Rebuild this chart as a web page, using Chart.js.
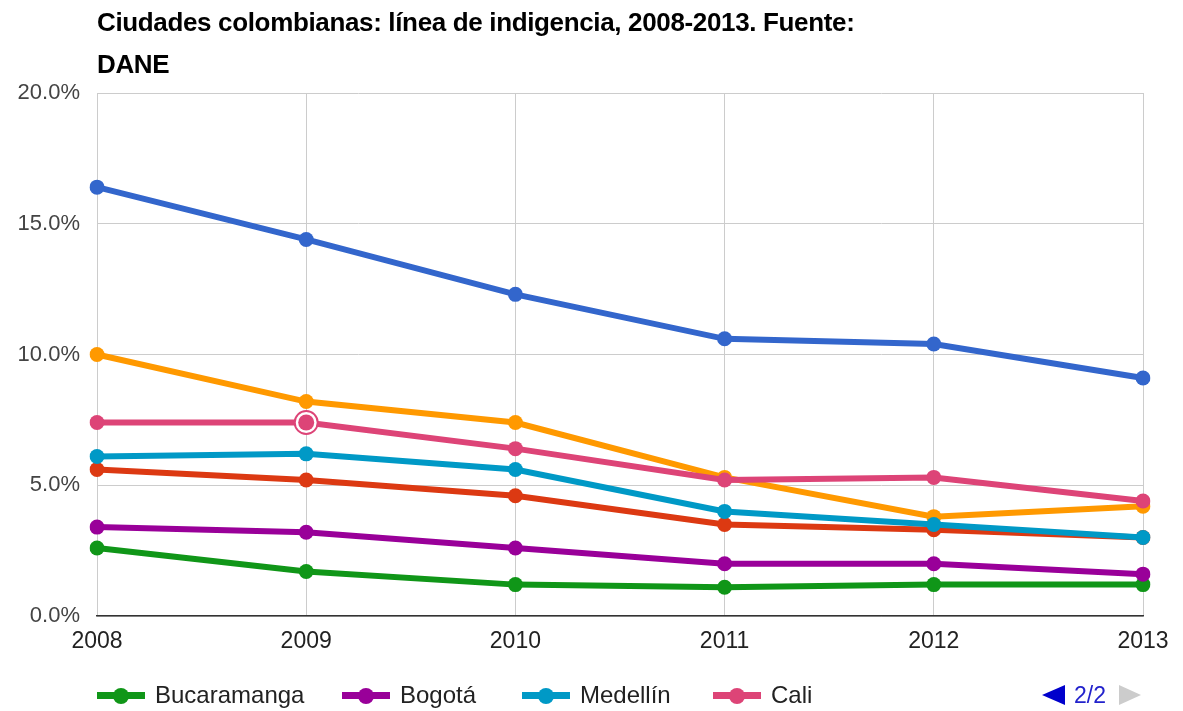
<!DOCTYPE html>
<html>
<head>
<meta charset="utf-8">
<script src="https://cdn.jsdelivr.net/npm/chart.js@4"></script>
<style>
  html, body { margin: 0; padding: 0; background: #fff; }
  .wrap { position: relative; width: 1183px; height: 711px; overflow: hidden; font-family: "Liberation Sans", Arial, sans-serif; }
  .title { position: absolute; left: 97px; top: 1px; width: 820px; font-size: 26px; letter-spacing: -0.35px; font-weight: bold; line-height: 42px; color: #000; }
  canvas { position: absolute; left: 0; top: 0; }
  .legend { position: absolute; left: 97px; top: 681px; height: 30px; font-size: 24px; color: #222; }
  .legend .item { position: absolute; top: 0; white-space: nowrap; }
  .legend .icon { position: absolute; top: 11px; width: 48px; height: 7px; }
  .legend .icon i { position: absolute; left: 16px; top: -4.5px; width: 16px; height: 16px; border-radius: 50%; background: inherit; }
  .legend .txt { position: absolute; left: 58px; top: 0px; line-height: 28px; }
  .pager { position: absolute; left: 1040px; top: 681px; font-size: 23px; color: #2222cc; }
  .pager .prev { position: absolute; left: 2px; top: 4px; width: 0; height: 0; border-top: 10px solid transparent; border-bottom: 10px solid transparent; border-right: 23px solid #0000cc; }
  .pager .num { position: absolute; left: 34px; top: 0px; line-height: 28px; }
  .pager .next { position: absolute; left: 79px; top: 4px; width: 0; height: 0; border-top: 10px solid transparent; border-bottom: 10px solid transparent; border-left: 22px solid #cccccc; }
</style>
</head>
<body>
<div class="wrap">
  <canvas id="line-chart" width="1183" height="711"></canvas>
  <div class="title">Ciudades colombianas: línea de indigencia, 2008-2013. Fuente: DANE</div>
  <div class="legend" id="legend"></div>
  <div class="pager"><span class="prev"></span><span class="num">2/2</span><span class="next"></span></div>
</div>
<script>
  const years = ['2008', '2009', '2010', '2011', '2012', '2013'];

  // series (first three sit on legend page 1, not visible in the picture)
  const names = ['Ciudad 1', 'Ciudad 2', 'Ciudad 3', 'Bucaramanga', 'Bogotá', 'Medellín', 'Cali'];
  const serie1 = [16.4, 14.4, 12.3, 10.6, 10.4, 9.1];
  const serie2 = [5.6, 5.2, 4.6, 3.5, 3.3, 3.0];
  const serie3 = [10.0, 8.2, 7.4, 5.3, 3.8, 4.2];
  const bucaramanga = [2.6, 1.7, 1.2, 1.1, 1.2, 1.2];
  const bogota = [3.4, 3.2, 2.6, 2.0, 2.0, 1.6];
  const medellin = [6.1, 6.2, 5.6, 4.0, 3.5, 3.0];
  const cali = [7.4, 7.4, 6.4, 5.2, 5.3, 4.4];

  const yTicks = [0, 5, 10, 15, 20];
  const colors = ['#3366cc', '#dc3912', '#ff9900', '#109618', '#990099', '#0099c6', '#dd4477'];
  const legendPage = [3, 4, 5, 6];
  const legendLeft = [0, 245, 425, 616];

  const allSeries = [serie1, serie2, serie3, bucaramanga, bogota, medellin, cali];

  //legend (page 2/2)
  const $legend = document.getElementById('legend');
  legendPage.forEach((idx, n) => {
    const item = document.createElement('div');
    item.className = 'item';
    item.style.left = legendLeft[n] + 'px';
    item.innerHTML = '<span class="icon" style="background:' + colors[idx] + '"><i></i></span><span class="txt">' + names[idx] + '</span>';
    $legend.appendChild(item);
  });

  //selected point ring (Cali, 2009)
  const selected = { dataset: 6, index: 1 };
  const ringPlugin = {
    id: 'ring',
    afterDatasetsDraw(chart) {
      const pt = chart.getDatasetMeta(selected.dataset).data[selected.index];
      const ctx = chart.ctx;
      ctx.save();
      ctx.beginPath();
      ctx.arc(pt.x, pt.y, 11, 0, Math.PI * 2);
      ctx.fillStyle = '#fff';
      ctx.fill();
      ctx.beginPath();
      ctx.arc(pt.x, pt.y, 11.5, 0, Math.PI * 2);
      ctx.lineWidth = 2;
      ctx.strokeStyle = colors[selected.dataset];
      ctx.stroke();
      ctx.beginPath();
      ctx.arc(pt.x, pt.y, 8, 0, Math.PI * 2);
      ctx.fillStyle = colors[selected.dataset];
      ctx.fill();
      ctx.restore();
    }
  };

  const datasets = allSeries.map((data, i) => ({
    label: names[i],
    data: data,
    borderColor: colors[i],
    backgroundColor: colors[i],
    borderWidth: 6,
    pointRadius: 7.5,
    pointHoverRadius: 7.5,
    pointBorderWidth: 0,
    tension: 0,
    order: allSeries.length - i
  }));

  new Chart(document.getElementById('line-chart').getContext('2d'), {
    type: 'line',
    data: { labels: years, datasets: datasets },
    options: {
      responsive: false,
      animation: false,
      layout: { padding: { top: 93, right: 40, bottom: 0, left: 0 } },
      plugins: {
        legend: { display: false },
        tooltip: { enabled: false },
        title: { display: false }
      },
      scales: {
        x: {
          offset: false,
          grid: { color: '#cccccc', lineWidth: 1, drawTicks: false },
          border: { color: '#333333', width: 1.5 },
          ticks: { color: '#222', font: { family: 'Liberation Sans', size: 23 }, padding: 12, maxRotation: 0 },
          afterFit(s) { s.height = 711 - 616; }
        },
        y: {
          min: 0,
          max: 20,
          afterBuildTicks(s) { s.ticks = yTicks.map(v => ({ value: v })); },
          grid: { color: '#cccccc', lineWidth: 1, drawTicks: false },
          border: { display: false },
          ticks: {
            color: '#444',
            font: { family: 'Liberation Sans', size: 22 },
            padding: 17,
            callback: v => v.toFixed(1) + '%'
          },
          afterFit(s) { s.width = 97; }
        }
      }
    },
    plugins: [ringPlugin]
  });
</script>
</body>
</html>
